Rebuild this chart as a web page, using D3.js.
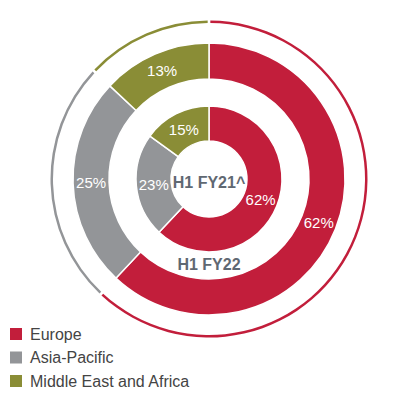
<!DOCTYPE html>
<html><head><meta charset="utf-8">
<script src="https://cdn.jsdelivr.net/npm/d3@7"></script>
<style>body{margin:0;background:#fff}</style></head>
<body><svg id="c" width="410" height="405"></svg>
<script>
const categories = ["Europe", "Asia-Pacific", "Middle East and Africa"];
const colors = ["#c21e3b", "#939598", "#8a8d36"];
const fy22 = [62, 25, 13];
const fy21 = [62, 23, 15];
const outerLabel = "H1 FY22";
const innerLabel = "H1 FY21^";

const svg = d3.select("#c");
const font = "'Liberation Sans Narrow','Liberation Sans',Arial,sans-serif";
const cx = 209, cy = 179;
const g = svg.append("g").attr("transform", `translate(${cx},${cy})`);
const pie = d3.pie().sort(null).value(d => d);

// thin outer ring
const ring = d3.arc().innerRadius(156).outerRadius(158.5).padAngle(0.012);
g.selectAll(".ring").data(pie(fy22)).join("path")
  .attr("d", ring).attr("fill", (d, i) => colors[i]);

function donut(vals, r0, r1) {
  const arc = d3.arc().innerRadius(r0).outerRadius(r1);
  const arcs = pie(vals);
  g.append("g").selectAll("path").data(arcs).join("path")
    .attr("d", arc).attr("fill", (d, i) => colors[i])
    .attr("stroke", "#fff").attr("stroke-width", 1.5);
  g.append("g").selectAll("text").data(arcs).join("text")
    .attr("transform", d => `translate(${arc.centroid(d)})`)
    .attr("text-anchor", "middle").attr("dy", "0.36em")
    .attr("fill", "#fff").attr("font-family", font).attr("font-size", 15)
    .text(d => d.data + "%");
}
donut(fy22, 100, 136);
donut(fy21, 38, 73);

g.append("text").attr("x", 0).attr("y", 3).attr("dy", "0.36em")
  .attr("text-anchor", "middle").attr("fill", "#5f6872").attr("font-weight", "bold")
  .attr("font-family", font).attr("font-size", 16).text(innerLabel);
g.append("text").attr("x", 0).attr("y", 85).attr("dy", "0.36em")
  .attr("text-anchor", "middle").attr("fill", "#5f6872").attr("font-weight", "bold")
  .attr("font-family", font).attr("font-size", 16).text(outerLabel);

const lg = svg.append("g").selectAll("g").data(categories).join("g")
  .attr("transform", (d, i) => `translate(10,${328 + i * 23.5})`);
lg.append("rect").attr("width", 12).attr("height", 12).attr("fill", (d, i) => colors[i]);
lg.append("text").attr("x", 20).attr("y", 6).attr("dy", "0.36em")
  .attr("fill", "#444").attr("font-family", font).attr("font-size", 16).text(d => d);
</script></body></html>
